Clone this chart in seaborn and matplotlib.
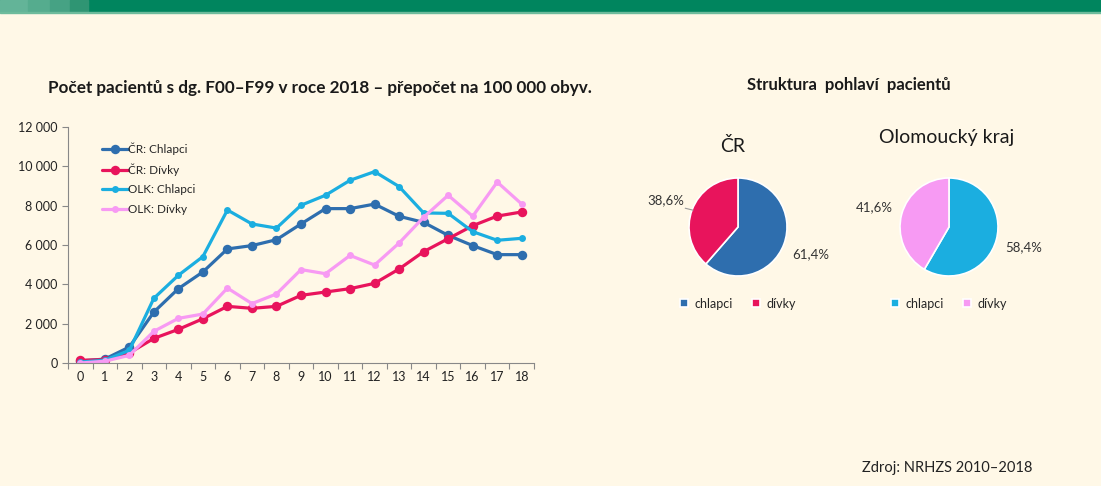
import numpy as np
import pandas as pd
import matplotlib.pyplot as plt
import seaborn as sns
from matplotlib.patches import Rectangle
from matplotlib.ticker import FuncFormatter

# data
ages = list(range(19))
cr_boys = [100, 200, 810, 2590, 3780, 4630, 5800, 5970, 6270, 7070, 7850,
           7850, 8080, 7460, 7150, 6490, 5970, 5510, 5510]
cr_girls = [140, 170, 510, 1250, 1710, 2250, 2880, 2780, 2880, 3440, 3610,
            3780, 4050, 4780, 5660, 6320, 6980, 7470, 7680]
olk_boys = [50, 140, 640, 3290, 4460, 5410, 7780, 7070, 6860, 8020, 8530,
            9290, 9730, 8970, 7630, 7610, 6680, 6240, 6340]
olk_girls = [0, 90, 390, 1610, 2270, 2490, 3810, 3020, 3510, 4750, 4540,
             5470, 4980, 6100, 7410, 8530, 7460, 9200, 8080]
series_names = ['ČR: Chlapci', 'ČR: Dívky', 'OLK: Chlapci', 'OLK: Dívky']

pie_labels = ['chlapci', 'dívky']
cr_share = [61.4, 38.6]
olk_share = [58.4, 41.6]

c_cr_b, c_cr_g = '#2E6EAE', '#E8145C'
c_olk_b, c_olk_g = '#1BAEE0', '#F79AF3'
bg = '#FFF8E7'

sns.set_theme(style='white')
plt.rcParams['font.family'] = ['Lato', 'DejaVu Sans']

W, H = 1101, 486
fig = plt.figure(figsize=(W / 100, H / 100), dpi=100)
fig.patch.set_facecolor(bg)


def box(x0, y0, x1, y1):
    # pixel box -> figure fraction rect
    return [x0 / W, 1 - y1 / H, (x1 - x0) / W, (y1 - y0) / H]


# green header band
fig.patches.append(Rectangle((0, 1 - 12 / H), 1, 12 / H, transform=fig.transFigure,
                             color='#00855E', zorder=0))
for x0, x1, c in [(0, 28, '#63B498'), (28, 50, '#55AC8E'), (50, 70, '#46A284'),
                  (70, 88, '#2F9573')]:
    fig.patches.append(Rectangle((x0 / W, 1 - 12 / H), (x1 - x0) / W, 12 / H,
                                 transform=fig.transFigure, color=c, zorder=1))
fig.patches.append(Rectangle((0, 1 - 13.5 / H), 1, 1.5 / H, transform=fig.transFigure,
                             color='#6DBB9C', zorder=1))

# line chart
ax = fig.add_axes(box(68, 127, 534, 363))
ax.set_facecolor(bg)
df = pd.DataFrame({'age': ages * 4,
                   'value': cr_boys + cr_girls + olk_boys + olk_girls,
                   'series': sum([[s] * len(ages) for s in series_names], [])})
styles = {'ČR: Chlapci': (c_cr_b, 6.8), 'ČR: Dívky': (c_cr_g, 6.8),
          'OLK: Chlapci': (c_olk_b, 5), 'OLK: Dívky': (c_olk_g, 5)}
for name in series_names:
    col, ms = styles[name]
    sns.lineplot(data=df[df['series'] == name], x='age', y='value', ax=ax,
                 color=col, lw=2.3, marker='o', markersize=ms,
                 markeredgewidth=0, label=name)

ax.set_xlim(-0.5, 18.5)
ax.set_ylim(0, 12000)
ax.set_xticks(ages)
ax.set_xticks(np.arange(-0.5, 19, 1), minor=True)
ax.set_yticks(range(0, 12001, 2000))
ax.yaxis.set_major_formatter(FuncFormatter(lambda v, p: f'{int(v):,}'.replace(',', ' ')))
ax.tick_params(axis='x', which='major', length=0, labelsize=9, pad=6, colors='#222222')
ax.tick_params(axis='x', which='minor', length=4, width=0.8, color='#888888', bottom=True)
ax.tick_params(axis='y', length=4, width=0.8, color='#888888', labelsize=9, left=True)
for lab in ax.get_yticklabels():
    lab.set_color('#222222')
ax.set_xlabel('')
ax.set_ylabel('')
for s in ['top', 'right']:
    ax.spines[s].set_visible(False)
for s in ['left', 'bottom']:
    ax.spines[s].set_color('#888888')
    ax.spines[s].set_linewidth(0.8)
leg = ax.legend(loc='upper left', bbox_to_anchor=(0.062, 0.955), frameon=False,
                fontsize=8.5, handlelength=2.2, handletextpad=0.05, labelspacing=0.72,
                borderaxespad=0)

fig.text(320 / W, 1 - 88 / H,
         'Počet pacientů s dg. F00–F99 v roce 2018 – přepočet na 100 000 obyv.',
         ha='center', va='center', fontsize=12.3, fontweight='bold', color='#1a1a1a')

# pie charts
fig.text(849 / W, 1 - 85 / H, 'Struktura  pohlaví  pacientů', ha='center', va='center',
         fontsize=12, fontweight='bold', color='#1a1a1a')


def draw_pie(cx, title, title_x, title_y, shares, colors, leader=False):
    r = 49
    pax = fig.add_axes(box(cx - r, 227 - r, cx + r, 227 + r))
    wedges, _, autotexts = pax.pie(
        shares, colors=colors, startangle=90, counterclock=False,
        autopct=lambda p: f'{p:.1f}%'.replace('.', ','), pctdistance=1.58,
        wedgeprops=dict(edgecolor='white', linewidth=1.2),
        textprops=dict(fontsize=9.5, color='#333333'))
    pax.set_xlim(-1, 1)
    pax.set_ylim(-1, 1)
    if leader:
        # short leader line for the second slice label
        w = wedges[1]
        ang = np.deg2rad((w.theta1 + w.theta2) / 2)
        pax.plot([0.98 * np.cos(ang), 1.15 * np.cos(ang)],
                 [0.98 * np.sin(ang), 1.15 * np.sin(ang) - 0.02],
                 color='#999999', lw=0.8, clip_on=False)
    fig.text(title_x / W, 1 - title_y / H, title, ha='center', va='center',
             fontsize=14, color='#1a1a1a')
    pax.legend(wedges, pie_labels, loc='upper center', bbox_to_anchor=(0.5, -0.17),
               ncol=2, frameon=False, fontsize=9, handlelength=0.6, handleheight=0.6,
               handletextpad=0.5, columnspacing=1.6, borderaxespad=0)
    return pax


draw_pie(738, 'ČR', 733, 146, cr_share, [c_cr_b, c_cr_g], leader=True)
draw_pie(949, 'Olomoucký kraj', 947, 138, olk_share, [c_olk_b, c_olk_g])

fig.text(947 / W, 1 - 468 / H, 'Zdroj: NRHZS 2010–2018', ha='center', va='center',
         fontsize=10.5, color='#222222')

plt.savefig('out.png', dpi=100, facecolor=fig.get_facecolor())
